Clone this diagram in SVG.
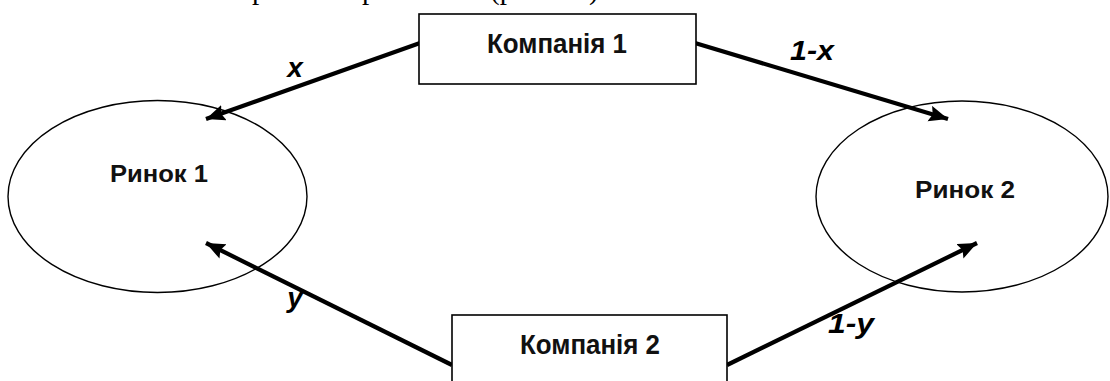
<svg xmlns="http://www.w3.org/2000/svg" width="1110" height="381" viewBox="0 0 1110 381">
<style>
.box{fill:#fff;stroke:#000;stroke-width:1.6}
.ell{fill:none;stroke:#000;stroke-width:1.4}
.lbl{font-family:"Liberation Sans",Arial,sans-serif;font-weight:bold;fill:#111;text-anchor:middle}
.arr{stroke:#000;stroke-width:4.2;fill:none;marker-end:url(#ah)}
.var{font-family:"Liberation Sans",Arial,sans-serif;font-weight:bold;font-style:italic;font-size:28px;fill:#000}
.top{font-family:"Liberation Serif","Times New Roman",serif;font-size:29px;fill:#000}
</style>
<defs>
<marker id="ah" markerUnits="userSpaceOnUse" markerWidth="22" markerHeight="18" refX="19" refY="8" orient="auto">
<path d="M0,0 L19,8 L0,16 L3,8 Z" fill="#000"/>
</marker>
</defs>
<text class="top" y="-1"><tspan x="252">р</tspan><tspan x="362">р</tspan><tspan x="490">(р</tspan><tspan x="589">)</tspan></text>
<g id="connectors">
<line class="arr" x1="420" y1="43" x2="206" y2="119"/>
<line class="arr" x1="695" y1="43" x2="948" y2="119"/>
<line class="arr" x1="452" y1="365" x2="206" y2="243"/>
<line class="arr" x1="727" y1="365" x2="977" y2="243"/>
<text class="var" x="295" y="77" text-anchor="middle">x</text>
<text class="var" x="790" y="60" textLength="44" lengthAdjust="spacingAndGlyphs">1-x</text>
<text class="var" x="295" y="307" text-anchor="middle">y</text>
<text class="var" x="828" y="333" textLength="46" lengthAdjust="spacingAndGlyphs">1-y</text>
</g>
<g id="company1">
<rect class="box" x="419" y="14" width="277" height="70"/>
<text class="lbl" x="557" y="53" font-size="27" textLength="140" lengthAdjust="spacingAndGlyphs">Компанія 1</text>
</g>
<g id="company2">
<rect class="box" x="452" y="315" width="275" height="72"/>
<text class="lbl" x="590" y="354" font-size="27" textLength="140" lengthAdjust="spacingAndGlyphs">Компанія 2</text>
</g>
<g id="market1">
<ellipse class="ell" cx="157.5" cy="196.5" rx="149.5" ry="96"/>
<text class="lbl" x="159" y="182" font-size="23.5" textLength="98" lengthAdjust="spacingAndGlyphs">Ринок 1</text>
</g>
<g id="market2">
<ellipse class="ell" cx="962" cy="196.5" rx="146" ry="95.5"/>
<text class="lbl" x="965" y="198" font-size="23.5" textLength="100" lengthAdjust="spacingAndGlyphs">Ринок 2</text>
</g>
</svg>
